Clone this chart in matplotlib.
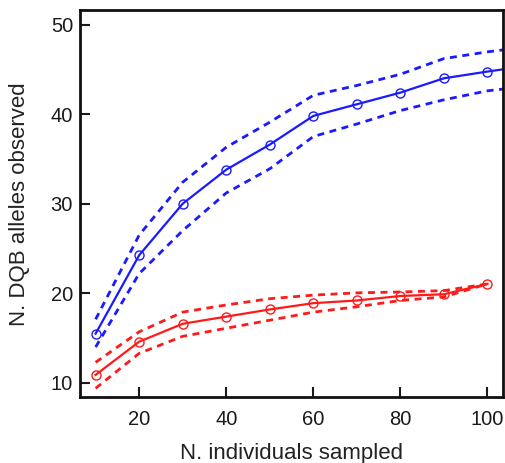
import matplotlib
matplotlib.use("Agg")
import matplotlib.pyplot as plt

plt.rcParams['font.family'] = ['Liberation Sans', 'DejaVu Sans']

x_red = [10, 20, 30, 40, 50, 60, 70, 80, 90, 100]
red_mean = [10.9, 14.6, 16.6, 17.4, 18.2, 18.9, 19.2, 19.7, 19.9, 21.05]
red_upper = [12.3, 15.7, 17.9, 18.7, 19.4, 19.8, 20.05, 20.15, 20.3, 21.05]
red_lower = [9.4, 13.3, 15.2, 16.1, 17.0, 17.9, 18.5, 19.2, 19.6, 21.05]

x_blue = [10, 20, 30, 40, 50, 60, 70, 80, 90, 100, 110]
blue_mean = [15.5, 24.25, 30.0, 33.8, 36.6, 39.8, 41.1, 42.4, 44.0, 44.75, 45.45]
blue_upper = [17.1, 26.5, 32.4, 36.3, 39.1, 42.1, 43.2, 44.45, 46.2, 46.95, 47.55]
blue_lower = [14.0, 22.2, 27.0, 31.2, 33.9, 37.5, 38.9, 40.4, 41.6, 42.6, 43.15]

xticks = [20, 40, 60, 80, 100]
yticks = [10, 20, 30, 40, 50]

fig = plt.figure(figsize=(5.06, 4.63), dpi=100)
ax = fig.add_axes([0.158, 0.142, 0.8355, 0.836])

blue = '#1a1aff'
red = '#ff1a1a'
dash = (2.5, 2.0)

ax.plot(x_blue, blue_mean, color=blue, lw=1.6, marker='o', ms=6.5, mfc='none', mew=1.0)
ax.plot(x_blue, blue_upper, color=blue, lw=2.0, ls=(0, dash))
ax.plot(x_blue, blue_lower, color=blue, lw=2.0, ls=(0, dash))
ax.plot(x_red, red_mean, color=red, lw=1.6, marker='o', ms=6.5, mfc='none', mew=1.0)
ax.plot(x_red, red_upper, color=red, lw=2.0, ls=(0, dash))
ax.plot(x_red, red_lower, color=red, lw=2.0, ls=(0, dash))

ax.set_xlim(6.4, 103.5)
ax.set_ylim(8.4, 51.6)
ax.set_xticks(xticks)
ax.set_yticks(yticks)
ax.tick_params(direction='in', length=7, width=1.5, labelsize=14.5, colors='#1a1a1a')
ax.tick_params(axis='x', pad=9)
ax.tick_params(axis='y', pad=5)
for s in ax.spines.values():
    s.set_linewidth(2)
    s.set_color('#111111')

ax.set_xlabel('N. individuals sampled', fontsize=16, color='#222222', labelpad=10)
ax.set_ylabel('N. DQB alleles observed', fontsize=16, color='#222222', labelpad=15)

fig.savefig('out.png', dpi=100)
